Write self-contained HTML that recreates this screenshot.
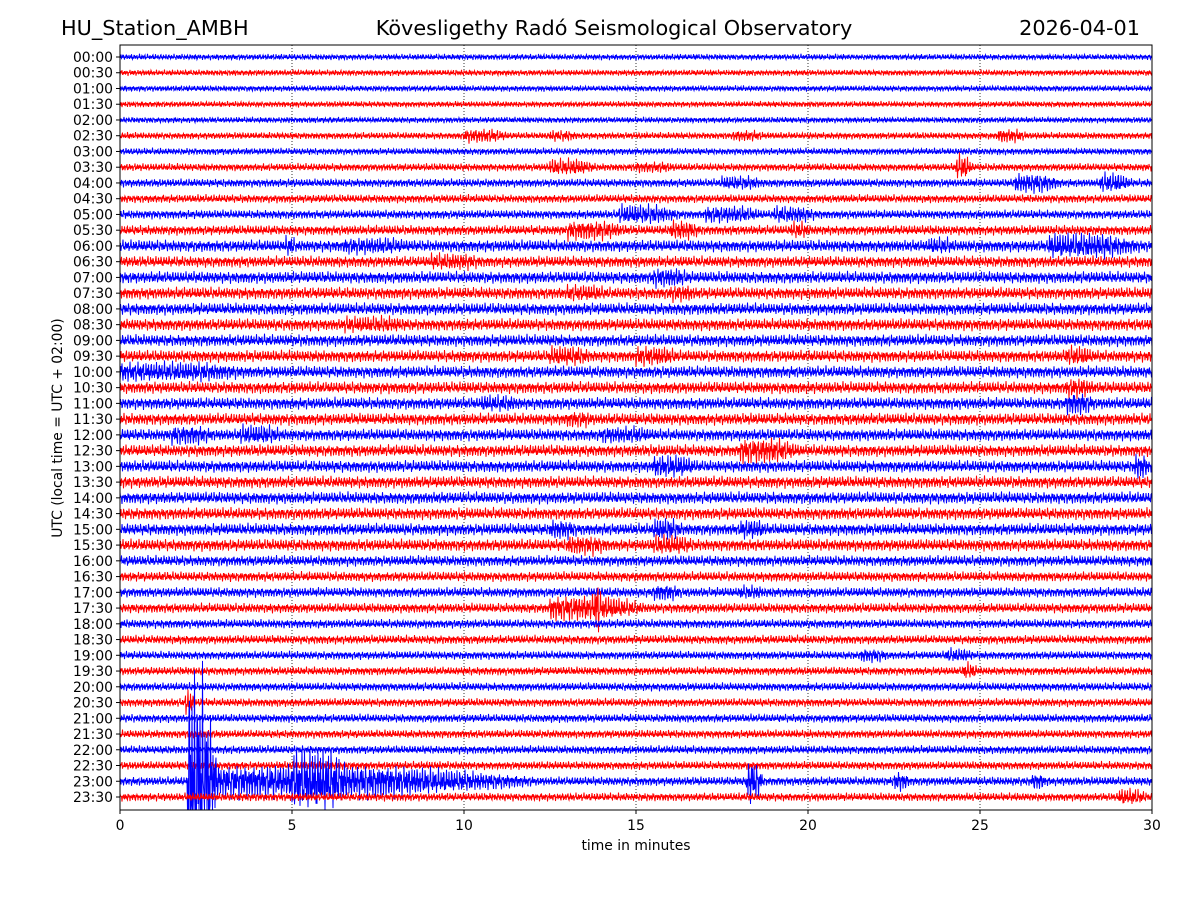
<!DOCTYPE html>
<html><head><meta charset="utf-8"><style>
body{margin:0;background:#fff;}
svg{display:block;font-family:"DejaVu Sans","Liberation Sans",sans-serif;}
</style></head><body>
<svg id="chart" width="1200" height="900" viewBox="0 0 1200 900">
<text x="61" y="35" font-size="20.8">HU_Station_AMBH</text>
<text x="614" y="35" font-size="20.8" text-anchor="middle">Kövesligethy Radó Seismological Observatory</text>
<text x="1140" y="35" font-size="20.8" text-anchor="end">2026-04-01</text>
<g id="grid"></g>
<g id="traces"></g>
<rect x="120" y="45" width="1032" height="765" fill="none" stroke="#000" stroke-width="1"/>
<g id="yt" font-size="13.9"></g>
<g id="xt" font-size="13.9"></g>
<text x="636" y="850" font-size="13.9" text-anchor="middle">time in minutes</text>
<text transform="translate(62,428) rotate(-90)" font-size="13.9" text-anchor="middle">UTC (local time = UTC + 02:00)</text>
</svg>
<script>
const rowLabels=[];for(let h=0;h<24;h++){const s=String(h).padStart(2,'0');rowLabels.push(s+':00',s+':30');}
const xTicks=[0,5,10,15,20,25,30];
const baseAmp=[2,2,2,2,2,2.3,2.3,2.6,2.8,2.8,3,3.3,4,3.8,4,4,4,4,4,4,4,4,4,4,4,4,4,4,4,4,4,4,3.6,3.3,3.3,3.3,3,3,2.8,2.8,2.8,2.8,2.8,2.8,2.8,2.8,3,2.8];
// events: [row, startMin, endMin, amplitude(px)]
const events=[[5,10,11.5,5],[5,12.5,13.5,4],[5,17.8,19,4],[5,25.5,26.5,5],
[7,12.5,14,6],[7,15,16.5,4],[7,24.3,24.8,9],
[8,17.5,19,5],[8,26,27.5,7],[8,28.5,29.5,7],
[10,14.5,16.5,7],[10,17,19,6],[10,19,20.5,6],
[11,13,15,7],[11,16,17,7],[11,19.5,20.2,6],
[12,6.5,9,6],[12,27,30,9],[12,23.5,24.5,6],[12,4.8,5.2,7],
[13,9,11,6],[14,15.5,16.8,7],[15,13,14.5,6],[15,16,17,6],[17,6.5,9,6],
[19,12.5,14,7],[19,15,16.5,7],[19,27.5,28.5,7],[20,0,4.5,7],
[21,27.5,28.5,7],[22,10.5,12,6],[22,27.5,28.5,8],[23,13,14,6],
[24,1.5,3,7],[24,3.5,5,7],[24,14,16,6],[25,18,20,9],
[26,15.5,17,8],[26,29.5,30,9],
[30,12.5,13.5,7],[30,15.5,16.5,8],[30,18,19,7],[31,13,14.5,7],[31,15.5,17,7],
[34,15.5,16.5,6],[34,18,19,5],[35,12.5,15.5,9],[35,13.8,14,20],
[38,21.5,22.5,5],[38,24,25,5],[39,24.5,25,6],[41,1.9,2.2,9],
[46,1.95,2.8,75],[46,2.8,12,12],[46,5,7,22],[46,18.2,18.7,15],[46,22.5,23,7],[46,26.5,27,6],
[47,29,30,6]];
const X0=120,X1=1152,Y0=57,DY=(797-57)/47;
const xs=m=>X0+(X1-X0)*m/30;
const ys=r=>Y0+r*DY;
const grid=document.getElementById('grid'),yt=document.getElementById('yt'),xt=document.getElementById('xt'),tr=document.getElementById('traces');
const NS='http://www.w3.org/2000/svg';
function mk(p,tag,at){const e=document.createElementNS(NS,tag);for(const k in at)e.setAttribute(k,at[k]);p.appendChild(e);return e;}
xTicks.forEach(t=>{
 if(t>0&&t<30){const g=mk(grid,'line',{x1:xs(t),x2:xs(t),y1:45,y2:810,stroke:'#000','stroke-width':0.8,'stroke-dasharray':'1,2'});
 
 }
 const l=mk(xt,'line',{x1:xs(t),x2:xs(t),y1:810,y2:814,stroke:'#000'});
 
 
 const tx=mk(xt,'text',{x:xs(t),y:830,'text-anchor':'middle'});tx.textContent=t;
 
 
});
rowLabels.forEach((s,r)=>{
 const l=mk(yt,'line',{x1:116,x2:120,y1:ys(r),y2:ys(r),stroke:'#000'});
 
 
 const tx=mk(yt,'text',{x:113,y:ys(r)+5,'text-anchor':'end'});tx.textContent=s;
 
 
});
const GAIN=1.2;
rowLabels.forEach((s,r)=>{
 const evs=events.filter(e=>e[0]===r);
 let d='';const y0=ys(r);
 for(let i=0;i<=2064;i++){
  const m=i/2064*30;
  let a=baseAmp[r];
  evs.forEach(e=>{if(m>=e[1]&&m<=e[2]){const f=Math.min(1,(e[2]-m)/(e[2]-e[1])*1.5+0.3);a=Math.max(a,e[3]*f);}});
  const c=Math.sin(i*2.37+r*1.3)*0.7+Math.sin(i*5.11+r*2)*0.45+Math.cos(i*0.731+r)*0.25;
  let y=y0+a*GAIN*c;if(y>810)y=810;if(y<45)y=45;
  d+=(i?'L':'M')+xs(m).toFixed(1)+' '+y.toFixed(1);
 }
 const p=mk(tr,'path',{d:d,fill:'none',stroke:r%2?'#ff0000':'#0000ff','stroke-width':1});
 
 
});
</script>
</body></html>
